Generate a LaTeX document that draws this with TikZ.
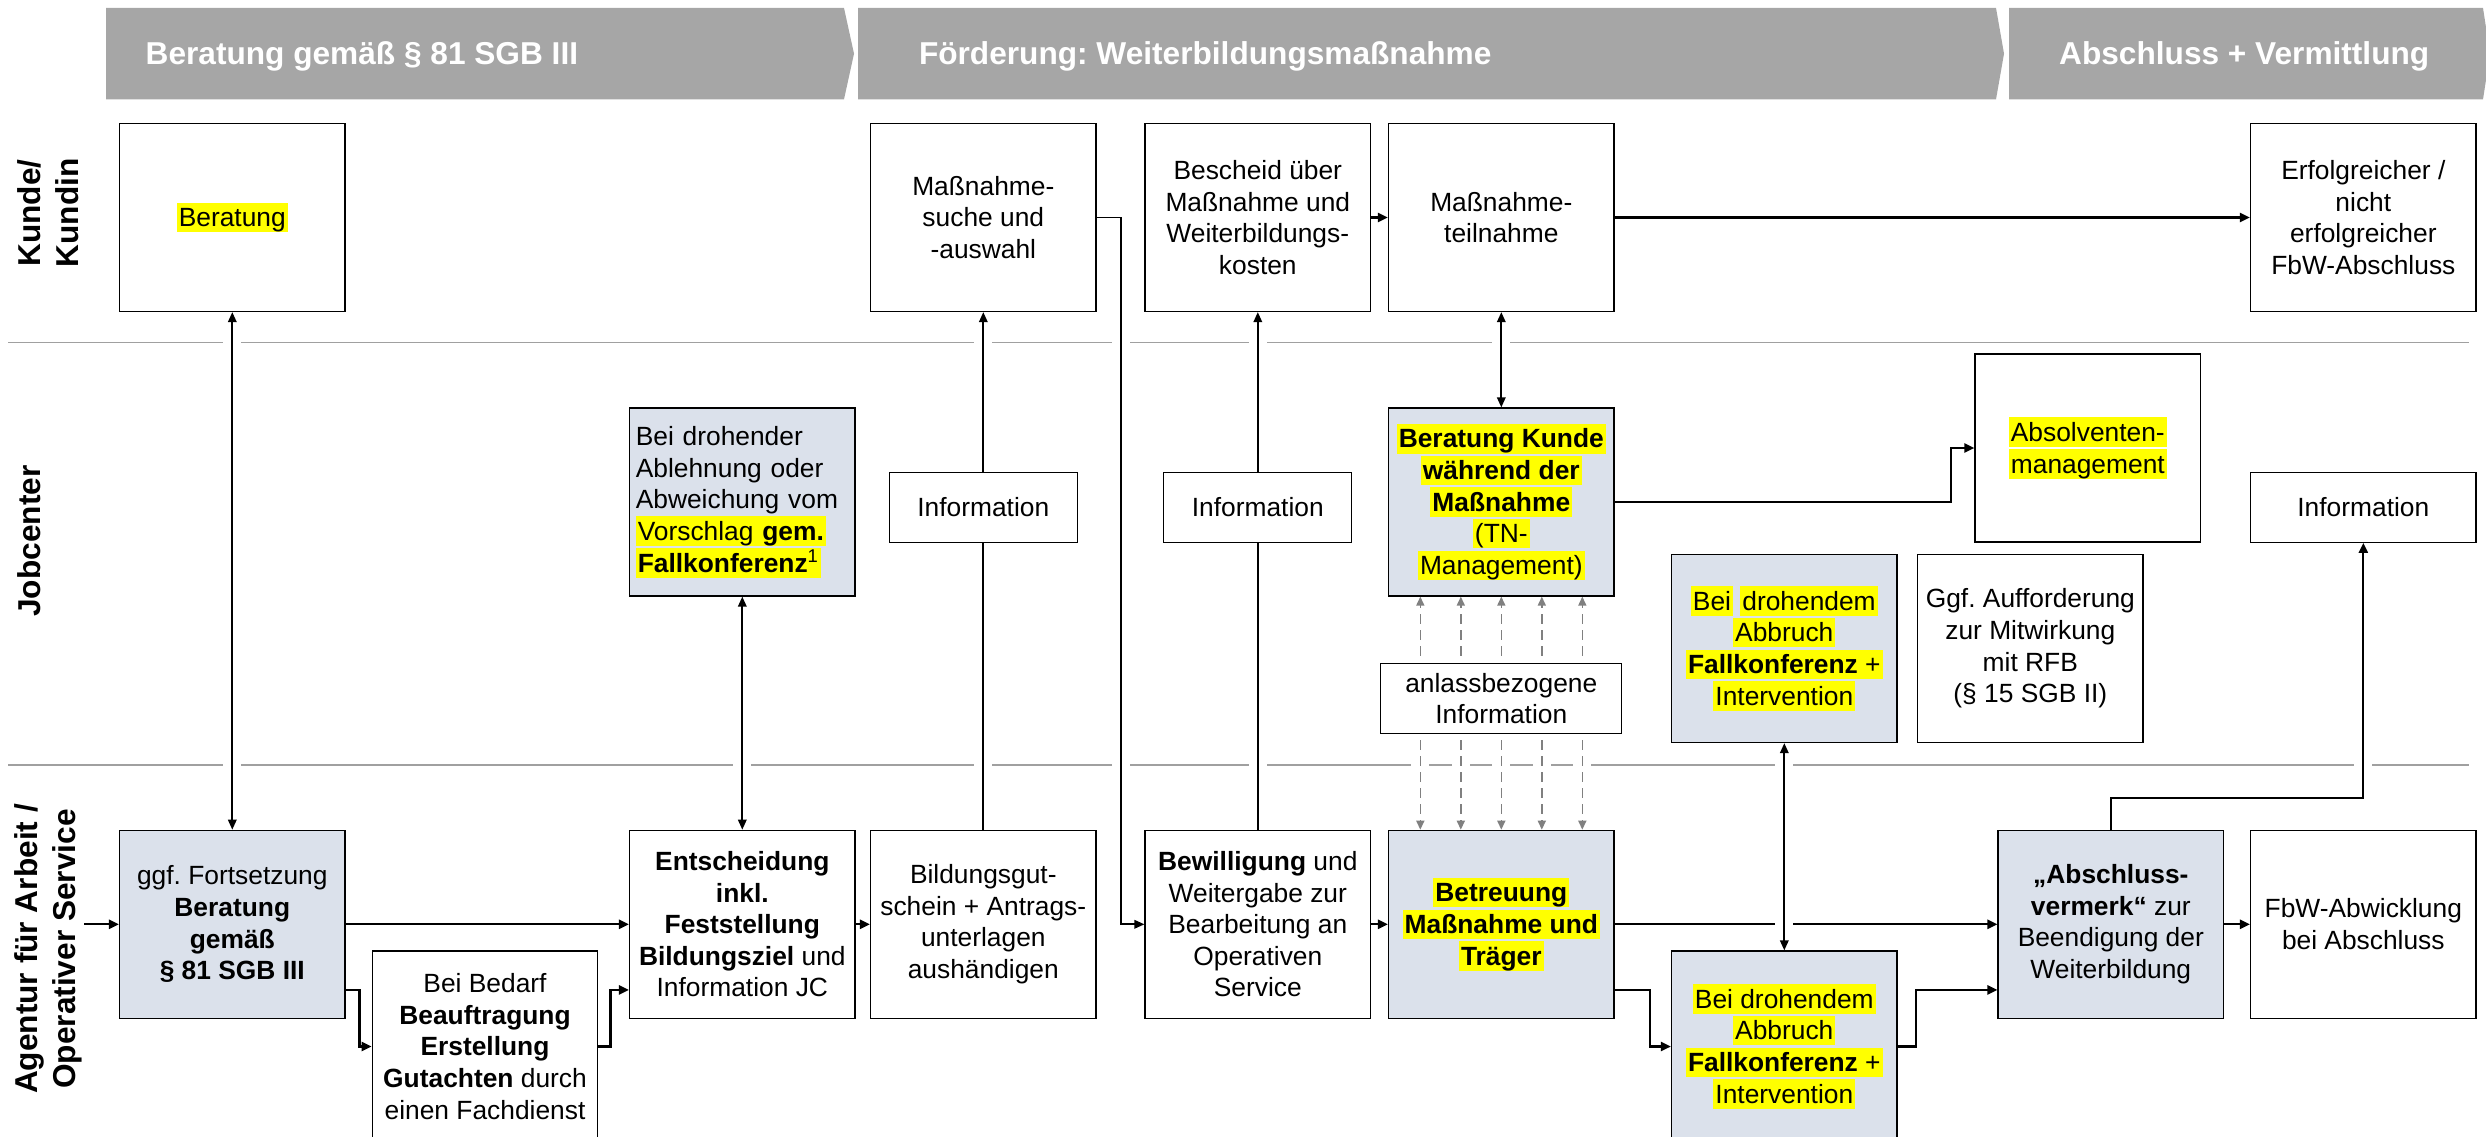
\documentclass[tikz,border=0pt]{standalone}
\usepackage{fontspec}
\setmainfont{Liberation Sans}
\usetikzlibrary{arrows.meta,calc}
\pgfdeclarelayer{bg}
\pgfdeclarelayer{lines}
\pgfsetlayers{bg,lines,main}
\definecolor{hdgray}{RGB}{166,166,166}
\definecolor{boxblue}{RGB}{219,225,235}
\definecolor{hlyellow}{RGB}{255,255,0}
\definecolor{sepgray}{RGB}{160,160,160}
\definecolor{dashgray}{RGB}{128,128,128}
\newcommand{\hl}[1]{{\setlength{\fboxsep}{0pt}\colorbox{hlyellow}{\rule[-1.1mm]{0pt}{5.9mm}\kern0.4mm#1\kern0.4mm}}}
\frenchspacing

\begin{document}
\begin{tikzpicture}[x=0.2mm, y=-0.2mm,
		box/.style={draw, line width=0.25mm, fill=white, minimum width=45.1mm, minimum height=37.6mm,
			inner sep=1mm, align=center, font=\fontsize{15}{18}\selectfont},
		bluebox/.style={box, fill=boxblue},
		infobox/.style={box, minimum width=37.6mm, minimum height=13.9mm},
		lane/.style={rotate=90, align=center, font=\fontsize{18}{21.6}\selectfont\bfseries},
		headtext/.style={anchor=base west, text=white, font=\fontsize{18}{21.6}\selectfont\bfseries},
		sep/.style={sepgray, line width=0.3mm},
		flow/.style={line width=0.45mm, -{Triangle[length=2mm,width=1.8mm]}},
		oneway/.style={line width=0.35mm, -{Triangle[length=2mm,width=1.7mm]}},
		plain/.style={line width=0.35mm},
		link/.style={line width=0.35mm, {Triangle[length=2mm,width=1.7mm]}-{Triangle[length=2mm,width=1.7mm]}},
		halo/.style={preaction={draw=white, line width=3.6mm, solid, arrows=-}},
		dashinfo/.style={dashgray, line width=0.3mm, dash pattern=on 2mm off 1.2mm, -{Triangle[length=1.8mm,width=1.6mm]}}]
		\useasboundingbox (0,0) rectangle (2486,1136);
		\clip (0,0) rectangle (2486,1136);

		% phases
		\fill[hdgray] (106,8) -- (844,8) -- (854,53.7) -- (844,99.3) -- (106,99.3) -- cycle;
		\fill[hdgray] (858,8) -- (1996,8) -- (2004,53.7) -- (1996,99.3) -- (858,99.3) -- cycle;
		\fill[hdgray] (2009,8) -- (2483,8) -- (2490,53.7) -- (2483,99.3) -- (2009,99.3) -- cycle;
		\node[headtext] (h1) at (139.5,65) {Beratung gemäß § 81 SGB III};
		\node[headtext] (h2) at (912.8,65) {Förderung: Weiterbildungsmaßnahme};
		\node[headtext] (h3) at (2053,65) {Abschluss + Vermittlung};

		% lanes
		\node[lane] (lkunde) at (48,213) {Kunde/\\Kundin};
		\node[lane] (ljc) at (29,541) {Jobcenter};
		\node[lane] (laa) at (48,949) {Agentur für Arbeit /\\Operativer Service};
		\begin{pgfonlayer}{bg}
			\draw[sep] (8,342.7) -- (2469,342.7);
			\draw[sep] (8,765) -- (2469,765);
		\end{pgfonlayer}

		% Kunde/Kundin
		\node[box] (beratung) at (232.3,217.5) {\hl{Beratung}};
		\node[box] (suche) at (983.3,217.5) {Maßnahme-\\suche und\\-auswahl};
		\node[box] (bescheid) at (1257.8,217.5) {Bescheid über\\Maßnahme und\\Weiterbildungs-\\kosten};
		\node[box] (teilnahme) at (1501.3,217.5) {Maßnahme-\\teilnahme};
		\node[box] (erfolg) at (2363.3,217.5) {Erfolgreicher /\\nicht\\erfolgreicher\\FbW-Abschluss};

		% Jobcenter
		\node[bluebox, text width=42.6mm, align=left] (ablehnung) at (742.3,502)
			{Bei drohender\\Ablehnung oder\\Abweichung vom\\\hl{Vorschlag \textbf{gem.}}\\\hl{\textbf{Fallkonferenz}\textsuperscript{1}}};
		\node[infobox] (info1) at (983.3,507.5) {Information};
		\node[infobox] (info2) at (1257.8,507.5) {Information};
		\node[bluebox] (bk) at (1501.3,502)
			{\hl{\textbf{Beratung Kunde}}\\\hl{\textbf{während der}}\\\hl{\textbf{Maßnahme}}\\\hl{(TN-}\\\hl{Management)}};
		\node[box] (absolv) at (2087.8,448) {\hl{Absolventen-}\\\hl{management}};
		\node[infobox, minimum width=45.1mm] (info3) at (2363.3,507.5) {Information};
		\node[bluebox] (jcabbruch) at (1784.3,648.5)
			{\hl{Bei} \hl{drohendem}\\\hl{Abbruch}\\\hl{\textbf{Fallkonferenz} +}\\\hl{Intervention}};
		\node[box] (aufford) at (2030.3,648.5) {Ggf. Aufforderung\\zur Mitwirkung\\mit RFB\\(§ 15 SGB II)};
		\node[box, minimum width=48.2mm, minimum height=14.1mm] (anlass) at (1501.3,698.5) {anlassbezogene\\Information};

		% Agentur fuer Arbeit
		\coordinate (start) at (84,924.3);
		\node[bluebox] (ggf) at (232.3,924.3) {ggf. Fortsetzung\\\textbf{Beratung}\\\textbf{gemäß}\\\textbf{§ 81 SGB III}};
		\node[box, minimum height=38.2mm] (bedarf) at (485,1046.5)
			{Bei Bedarf\\\textbf{Beauftragung}\\\textbf{Erstellung}\\\textbf{Gutachten} durch\\einen Fachdienst};
		\node[box] (entsch) at (742.3,924.3)
			{\textbf{Entscheidung}\\\textbf{inkl.}\\\textbf{Feststellung}\\\textbf{Bildungsziel} und\\Information JC};
		\node[box] (gutschein) at (983.3,924.3) {Bildungsgut-\\schein + Antrags-\\unterlagen\\aushändigen};
		\node[box] (bewill) at (1257.8,924.3) {\textbf{Bewilligung} und\\Weitergabe zur\\Bearbeitung an\\Operativen\\Service};
		\node[bluebox] (betreu) at (1501.3,924.3) {\hl{\textbf{Betreuung}}\\\hl{\textbf{Maßnahme und}}\\\hl{\textbf{Träger}}};
		\node[bluebox, minimum height=38.2mm] (aaabbruch) at (1784.3,1046.5)
			{\hl{Bei drohendem}\\\hl{Abbruch}\\\hl{\textbf{Fallkonferenz} +}\\\hl{Intervention}};
		\node[bluebox] (vermerk) at (2110.8,924.3) {\textbf{„Abschluss-}\\\textbf{vermerk“} zur\\Beendigung der\\Weiterbildung};
		\node[box] (fbw) at (2363.3,924.3) {FbW-Abwicklung\\bei Abschluss};

		\begin{pgfonlayer}{lines}
			% flow
			\draw[flow] (bescheid) -- (teilnahme);
			\draw[flow] (teilnahme) -- (erfolg);
			\draw[flow] (bk.east) -- ++(336,0) |- (absolv.west);
			\draw[flow] (start) -- (ggf);
			\draw[flow] (ggf) -- (entsch);
			\draw[flow] ([yshift=5.8mm]ggf.south east) -- ++(13.7,0) |- (bedarf.west);
			\draw[flow] (bedarf.east) -- ++(12,0) |- ([yshift=5.8mm]entsch.south west);
			\draw[flow] (entsch) -- (gutschein);
			\draw[flow] (bewill) -- (betreu);
			\draw[flow] (betreu) -- (vermerk);
			\draw[flow] ([yshift=5.8mm]betreu.south east) -- ++(35,0) |- (aaabbruch.west);
			\draw[flow] (aaabbruch.east) -- ++(18,0) |- ([yshift=5.8mm]vermerk.south west);
			\draw[flow] (vermerk) -- (fbw);
			% between lanes
			\draw[link, halo] (beratung) -- (ggf);
			\draw[link, halo] (ablehnung) -- (entsch);
			\draw[plain, halo] (gutschein) -- (info1);
			\draw[oneway, halo] (info1) -- (suche);
			\draw[oneway, halo] (suche.east) -- ++(24,0) |- (bewill.west);
			\draw[plain, halo] (bewill) -- (info2);
			\draw[oneway, halo] (info2) -- (bescheid);
			\draw[link, halo] (teilnahme) -- (bk);
			\draw[link, halo] (jcabbruch) -- (aaabbruch);
			\draw[flow, halo] (vermerk.north) -- ++(0,-32) -| (info3.south);
			\foreach \dx in {-16.2,-8.1,0,8.1,16.2}{
				\draw[dashinfo, halo, shorten <=1.4mm] ([xshift=\dx mm]anlass.north) -- ([xshift=\dx mm]bk.south);
				\draw[dashinfo, halo, shorten <=1.2mm] ([xshift=\dx mm]anlass.south) -- ([xshift=\dx mm]betreu.north);
			}
		\end{pgfonlayer}

	\end{tikzpicture}
\end{document}
